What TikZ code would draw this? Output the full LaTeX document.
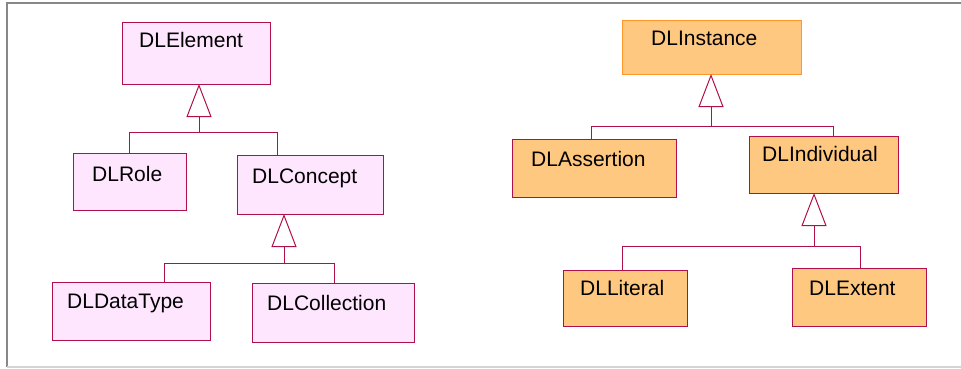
\documentclass[tikz,border=0pt]{standalone}
\usepackage{fontspec}
\setmainfont{Liberation Sans}
\usetikzlibrary{arrows.meta}
\definecolor{crim}{RGB}{176,16,74}
\definecolor{pinkf}{RGB}{255,230,255}
\definecolor{orangef}{RGB}{255,200,128}
\definecolor{orangeb}{RGB}{255,150,40}
\definecolor{frameA}{RGB}{136,136,136}
\definecolor{frameB}{RGB}{212,212,212}
\begin{document}
\begin{tikzpicture}[x=1pt,y=-1pt,
 cls/.style={draw=crim, line width=1pt, anchor=north west, inner sep=0pt, outer sep=0pt},
 pinkbox/.style={cls, fill=pinkf},
 orbox/.style={cls, fill=orangef},
 lbl/.style={anchor=base west, inner sep=0pt, font=\fontsize{21}{24}\selectfont},
 conn/.style={draw=crim, line width=1pt},
 gen/.style={conn, -{Triangle[open, length=33pt, width=25pt]}}]
\useasboundingbox (0,0) rectangle (961,368);
% frame
\draw[frameA, line width=2pt] (7,367) -- (7,3) -- (961,3);
\draw[frameB, line width=1.2pt] (7,367) -- (961,367);
% left boxes
\node[pinkbox, minimum width=148pt, minimum height=62pt] (elem) at (122,22) {};
\node[pinkbox, minimum width=113pt, minimum height=57pt] (role) at (73,153) {};
\node[pinkbox, minimum width=146pt, minimum height=59pt] (concept) at (237,155) {};
\node[pinkbox, minimum width=158pt, minimum height=58pt] (datatype) at (52,282) {};
\node[pinkbox, minimum width=162pt, minimum height=59pt] (collection) at (252,283) {};
% right boxes
\node[orbox, draw=orangeb, minimum width=179pt, minimum height=54pt] (instance) at (622,20) {};
\node[orbox, minimum width=164pt, minimum height=58pt] (assertion) at (512,139) {};
\node[orbox, minimum width=149pt, minimum height=57pt] (individual) at (749,136) {};
\node[orbox, minimum width=124pt, minimum height=56pt] (literal) at (563,270) {};
\node[orbox, minimum width=134pt, minimum height=58pt] (extent) at (792,268) {};
% labels
\node[lbl] (telem) at (139,47) {DLElement};
\node[lbl] (trole) at (92,181) {DLRole};
\node[lbl] (tconcept) at (252,183) {DLConcept};
\node[lbl] (tdatatype) at (67,308) {DLDataType};
\node[lbl] (tcollection) at (267,310) {DLCollection};
\node[lbl] (tinstance) at (651,45) {DLInstance};
\node[lbl] (tassertion) at (531,166) {DLAssertion};
\node[lbl] (tindividual) at (762,161) {DLIndividual};
\node[lbl] (tliteral) at (580,295) {DLLiteral};
\node[lbl] (textent) at (809,295) {DLExtent};
% connectors left
\coordinate (j1) at (199,132);
\coordinate (c1) at (277,132);
\draw[gen] (j1) -- (j1 |- elem.south);
\draw[conn] (role.north) |- (c1) -- (c1 |- concept.north);
\coordinate (j2) at (284,263);
\coordinate (d2) at (164,263);
\coordinate (e2) at (334,263);
\draw[gen] (j2) -- (j2 |- concept.south);
\draw[conn] (d2 |- datatype.north) -- (d2) -- (e2) -- (e2 |- collection.north);
% connectors right
\coordinate (j3) at (711,126);
\coordinate (a3) at (591,126);
\coordinate (b3) at (833,126);
\draw[gen] (j3) -- (j3 |- instance.south);
\draw[conn] (a3 |- assertion.north) -- (a3) -- (b3) -- (b3 |- individual.north);
\coordinate (j4) at (814,246);
\coordinate (a4) at (622,246);
\coordinate (b4) at (860,246);
\draw[gen] (j4) -- (j4 |- individual.south);
\draw[conn] (a4 |- literal.north) -- (a4) -- (b4) -- (b4 |- extent.north);
\end{tikzpicture}
\end{document}
